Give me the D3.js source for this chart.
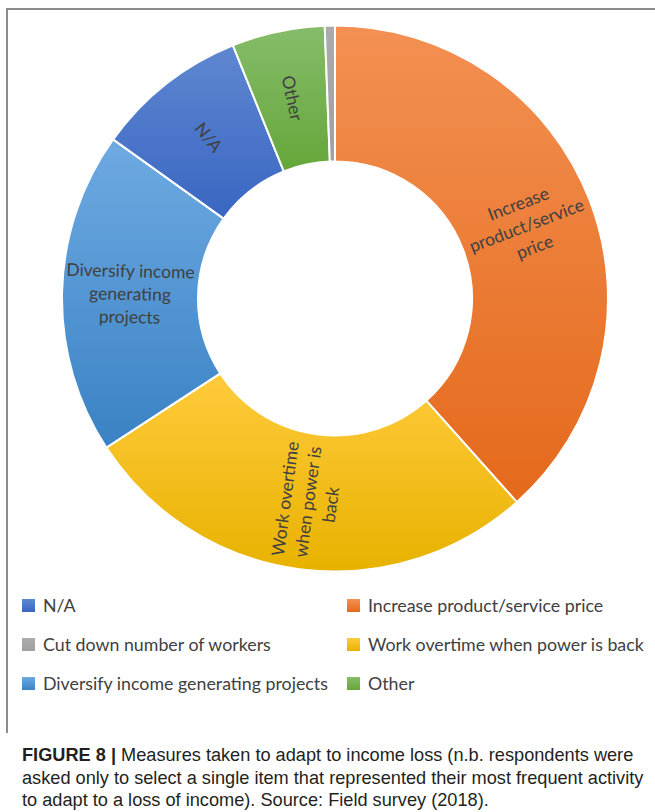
<!DOCTYPE html>
<html>
<head>
<meta charset="utf-8">
<script src="https://cdn.jsdelivr.net/npm/d3@7/dist/d3.min.js"></script>
<style>
  html, body { margin: 0; padding: 0; background: #fff; }
  svg { display: block; }
</style>
</head>
<body>
<svg id="chart" width="655" height="812"></svg>
<script>
// Measures taken to adapt to income loss (% of respondents), clockwise from 12 o'clock
const categories = [
  "Increase product/service price",
  "Work overtime when power is back",
  "Diversify income generating projects",
  "N/A",
  "Other",
  "Cut down number of workers"
];
const shares = [38.4, 27.4, 19.1, 9.0, 5.5, 0.6];

// Slice labels (line-broken) and whether the text runs along the radius
const sliceLabels = [
  ["Increase", "product/service", "price"],
  ["Work overtime", "when power is", "back"],
  ["Diversify income", "generating", "projects"],
  ["N/A"],
  ["Other"],
  []
];
const radialLabel = [false, true, false, true, true, false];

// Legend order (two columns, read down then across)
const legendOrder = [
  "N/A",
  "Cut down number of workers",
  "Diversify income generating projects",
  "Increase product/service price",
  "Work overtime when power is back",
  "Other"
];

// Office-style palette: [light top, dark bottom]
const sliceColors = {
  "Increase product/service price": ["#f39052", "#e4691b"],
  "Work overtime when power is back": ["#ffcb3c", "#e8b200"],
  "Diversify income generating projects": ["#6eaae2", "#3a82c4"],
  "N/A": ["#5f87d1", "#3966c2"],
  "Other": ["#86bc6a", "#65a73a"],
  "Cut down number of workers": ["#ababab", "#a0a0a0"]
};

const caption = [
  ["FIGURE 8 | ", "Measures taken to adapt to income loss (n.b. respondents were"],
  ["", "asked only to select a single item that represented their most frequent activity"],
  ["", "to adapt to a loss of income). Source: Field survey (2018)."]
];

const svg = d3.select("#chart");
const defs = svg.append("defs");

// Figure frame
svg.append("line").attr("x1", 6).attr("x2", 655).attr("y1", 9).attr("y2", 9)
  .attr("stroke", "#8c8c8c").attr("stroke-width", 2);
svg.append("line").attr("x1", 7).attr("x2", 7).attr("y1", 8).attr("y2", 733)
  .attr("stroke", "#8c8c8c").attr("stroke-width", 2);

const cx = 335, cy = 298.5, outerR = 273, innerR = 137;
const data = categories.map((c, i) => ({ name: c, value: shares[i], label: sliceLabels[i], radial: radialLabel[i] }));

// Gradients
categories.forEach((c, i) => {
  const g = defs.append("linearGradient").attr("id", "grad" + i)
    .attr("x1", 0).attr("y1", 0).attr("x2", 0).attr("y2", 1);
  g.append("stop").attr("offset", "0%").attr("stop-color", sliceColors[c][0]);
  g.append("stop").attr("offset", "100%").attr("stop-color", sliceColors[c][1]);
});

const pie = d3.pie().value(d => d.value).sort(null);
const arc = d3.arc().innerRadius(innerR).outerRadius(outerR);
const arcs = pie(data);

const g = svg.append("g").attr("transform", `translate(${cx},${cy})`);

g.selectAll("path.slice").data(arcs).join("path")
  .attr("class", "slice")
  .attr("d", arc)
  .attr("fill", (d, i) => `url(#grad${i})`)
  .attr("stroke", "#ffffff")
  .attr("stroke-width", 2)
  .attr("stroke-linejoin", "round");

// Slice labels, kept upright
const labelArc = d3.arc().innerRadius((innerR + outerR) / 2).outerRadius((innerR + outerR) / 2);
const lineH = 23;
arcs.forEach(d => {
  const lines = d.data.label;
  if (!lines.length) return;
  const [lx, ly] = labelArc.centroid(d);
  const mid = ((d.startAngle + d.endAngle) / 2) * 180 / Math.PI;
  let rot = d.data.radial ? mid - 270 : mid - 90;
  while (rot > 90) rot -= 180;
  while (rot < -90) rot += 180;
  const t = g.append("text")
    .attr("transform", `translate(${lx},${ly}) rotate(${rot})`)
    .attr("text-anchor", "middle")
    .attr("font-family", "Lato, 'Open Sans', sans-serif")
    .attr("font-size", 17.5)
    .attr("fill", "#404040");
  lines.forEach((s, k) => {
    t.append("tspan").attr("x", 0)
      .attr("y", (k - (lines.length - 1) / 2) * lineH)
      .attr("dy", "0.35em")
      .text(s);
  });
});

// Legend
const legendX = [22, 347], legendY = [606, 645, 684];
legendOrder.forEach((name, i) => {
  const col = Math.floor(i / 3), row = i % 3;
  const idx = categories.indexOf(name);
  const lg = svg.append("g").attr("transform", `translate(${legendX[col]},${legendY[row]})`);
  lg.append("rect").attr("x", 0).attr("y", -7).attr("width", 13).attr("height", 13)
    .attr("fill", `url(#grad${idx})`);
  lg.append("text").attr("x", 21).attr("y", 0).attr("dy", "0.35em")
    .attr("font-family", "Lato, 'Open Sans', sans-serif")
    .attr("font-size", 17.8)
    .attr("fill", "#404040")
    .text(name);
});

// Caption: a narrow sans, condensed horizontally so the first line spans the frame
const capY = [755, 778, 800];
const capG = svg.append("g");
const capTexts = caption.map((parts, i) => {
  const t = capG.append("text").attr("x", 0).attr("y", capY[i]).attr("dy", "0.35em")
    .attr("font-family", "'Liberation Sans', Arial, sans-serif")
    .attr("font-size", 18.5)
    .attr("fill", "#231f20");
  if (parts[0]) t.append("tspan").attr("font-weight", "bold").text(parts[0]);
  t.append("tspan").text(parts[1]);
  return t;
});
const natural = capTexts[0].node().getComputedTextLength();
const sx = 612 / natural;
capG.attr("transform", `translate(22,0) scale(${sx},1)`);
</script>
</body>
</html>
